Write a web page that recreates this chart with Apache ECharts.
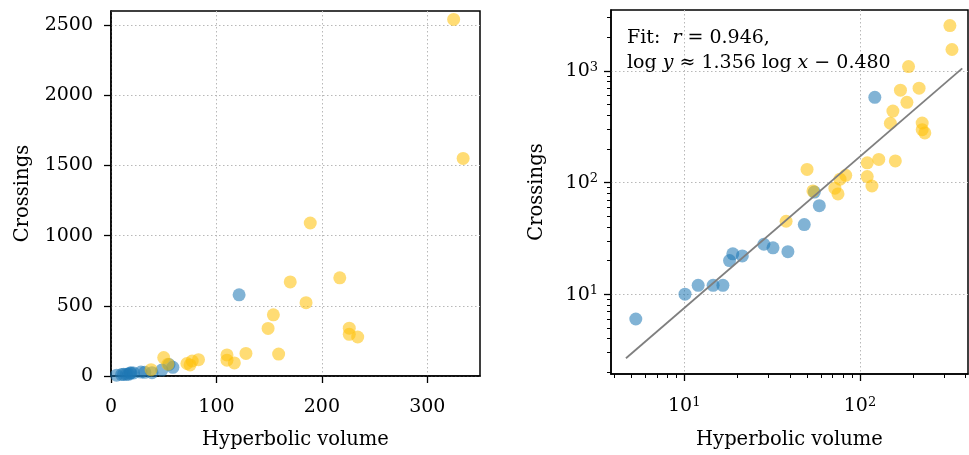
<!DOCTYPE html>
<html>
<head>
<meta charset="utf-8">
<script src="https://cdn.jsdelivr.net/npm/echarts@6/dist/echarts.min.js"></script>
<style>
  html, body { margin: 0; padding: 0; background: #fff; }
  #chart { width: 969px; height: 455px; }
</style>
</head>
<body>
<div id="chart"></div>
<script>
// Knots: hyperbolic volume vs. crossing number, two families
const blueVolume    = [5.3, 10.1, 12.0, 14.6, 16.6, 18.1, 18.9, 21.4, 28.4, 32.0, 38.9, 48.2, 55.0, 58.7, 121.5];
const blueCrossings = [6, 10, 12, 12, 12, 20, 23, 22, 28, 26, 24, 42, 82, 62, 578];

const yellowVolume    = [325, 334, 189, 170, 217, 185, 154, 149, 226, 226, 234, 159, 128, 110, 110, 117, 50, 83, 77, 72, 75, 54, 38];
const yellowCrossings = [2540, 1550, 1090, 670, 699, 522, 436, 339, 341, 297, 278, 156, 161, 150, 113, 93, 131, 116, 107, 89, 79, 84, 45];

// Least-squares fit in log-log space
const fitR = 0.946;
const fitSlope = 1.356;
const fitIntercept = -0.480;
const fitXRange = [4.66, 382];

// Tick values
const linXTicks = [0, 100, 200, 300];
const linYTicks = [0, 500, 1000, 1500, 2000, 2500];
const logXMajor = [10, 100];
const logXMinor = [4, 5, 6, 7, 8, 9, 20, 30, 40, 50, 60, 70, 80, 90, 200, 300, 400];
const logYMajor = [10, 100, 1000];
const logYMinor = [2, 3, 4, 5, 6, 7, 8, 9, 20, 30, 40, 50, 60, 70, 80, 90,
                   200, 300, 400, 500, 600, 700, 800, 900, 2000, 3000];

const FONT = 'DejaVu Serif';
const TICK_SIZE = 19;
const NAME_SIZE = 19.5;

const pair = (xs, ys) => xs.map((x, i) => [x, ys[i]]);
const fitLine = fitXRange.map(x => [x, Math.pow(10, fitSlope * Math.log10(x) + fitIntercept)]);

const blueColor = 'rgba(31,119,180,0.7)';
const yellowColor = 'rgba(255,193,7,0.7)';
const DOT = 13;

const gridLine = { show: true, lineStyle: { color: '#b8b8b8', type: [1.5, 2.5], width: 1 } };
const axisLine = { show: true, lineStyle: { color: '#000', width: 1.5 } };
const majorTick = (vals) => ({ show: true, length: 7, customValues: vals, lineStyle: { color: '#000', width: 1.3 } });
const minorTick = (vals) => ({ show: true, length: 4, customValues: vals, lineStyle: { color: '#000', width: 1 } });
const plainNum = (v) => String(v);
const tickLabel = { color: '#000', fontFamily: FONT, fontSize: TICK_SIZE, formatter: plainNum };
const nameStyle = { color: '#000', fontFamily: FONT, fontSize: NAME_SIZE };

const powLabel = (v) => '{b|10}{s|' + Math.round(Math.log10(v)) + '}';
const powRich = {
  b: { fontFamily: FONT, fontSize: TICK_SIZE, color: '#000', verticalAlign: 'bottom', lineHeight: 20 },
  s: { fontFamily: FONT, fontSize: 13, color: '#000', verticalAlign: 'top', lineHeight: 13 }
};

const LOG_X_MIN = 3.83, LOG_X_MAX = 412;
const LOG_Y_MIN = 1.93, LOG_Y_MAX = 3500;

const fitText =
  'Fit:  {i|r} = ' + fitR.toFixed(3) + ',\n' +
  'log {i|y} \u2248 ' + fitSlope.toFixed(3) + ' log {i|x} \u2212 ' + Math.abs(fitIntercept).toFixed(3);

const option = {
  animation: false,
  backgroundColor: '#fff',
  grid: [
    { left: 111, top: 11, width: 369, height: 367, show: true, borderColor: '#000', borderWidth: 1.5 },
    { left: 611, top: 10, width: 357, height: 365.5, show: true, borderColor: '#000', borderWidth: 1.5 }
  ],
  xAxis: [
    {
      gridIndex: 0, type: 'value', min: 0, max: 350,
      name: 'Hyperbolic volume', nameLocation: 'middle', nameGap: 54, nameTextStyle: nameStyle,
      axisLine, axisTick: majorTick(linXTicks), splitLine: gridLine,
      axisLabel: Object.assign({ customValues: linXTicks, margin: 22 }, tickLabel)
    },
    {
      gridIndex: 1, type: 'log', logBase: 10, min: LOG_X_MIN, max: LOG_X_MAX, position: 'bottom',
      name: 'Hyperbolic volume', nameLocation: 'middle', nameGap: 56, nameTextStyle: nameStyle,
      axisLine, axisTick: majorTick(logXMajor), splitLine: gridLine,
      axisLabel: { customValues: logXMajor, margin: 22, formatter: powLabel, rich: powRich }
    },
    {
      gridIndex: 1, type: 'log', logBase: 10, min: LOG_X_MIN, max: LOG_X_MAX, position: 'bottom',
      axisLine: { show: false }, axisTick: minorTick(logXMinor), splitLine: { show: false },
      axisLabel: { show: false }
    }
  ],
  yAxis: [
    {
      gridIndex: 0, type: 'value', min: 0, max: 2600,
      name: 'Crossings', nameLocation: 'middle', nameGap: 78, nameTextStyle: nameStyle,
      axisLine, axisTick: majorTick(linYTicks), splitLine: gridLine,
      axisLabel: Object.assign({ customValues: linYTicks, margin: 18 }, tickLabel)
    },
    {
      gridIndex: 1, type: 'log', logBase: 10, min: LOG_Y_MIN, max: LOG_Y_MAX, position: 'left',
      name: 'Crossings', nameLocation: 'middle', nameGap: 64, nameTextStyle: nameStyle,
      axisLine, axisTick: majorTick(logYMajor), splitLine: gridLine,
      axisLabel: { customValues: logYMajor, margin: 13, formatter: powLabel, rich: powRich }
    },
    {
      gridIndex: 1, type: 'log', logBase: 10, min: LOG_Y_MIN, max: LOG_Y_MAX, position: 'left',
      axisLine: { show: false }, axisTick: minorTick(logYMinor), splitLine: { show: false },
      axisLabel: { show: false }
    }
  ],
  series: [
    { type: 'scatter', xAxisIndex: 0, yAxisIndex: 0, symbolSize: DOT, itemStyle: { color: blueColor }, data: pair(blueVolume, blueCrossings) },
    { type: 'scatter', xAxisIndex: 0, yAxisIndex: 0, symbolSize: DOT, itemStyle: { color: yellowColor }, data: pair(yellowVolume, yellowCrossings) },
    { type: 'scatter', xAxisIndex: 1, yAxisIndex: 1, symbolSize: DOT, itemStyle: { color: blueColor }, data: pair(blueVolume, blueCrossings) },
    { type: 'scatter', xAxisIndex: 1, yAxisIndex: 1, symbolSize: DOT, itemStyle: { color: yellowColor }, data: pair(yellowVolume, yellowCrossings) },
    {
      type: 'line', xAxisIndex: 1, yAxisIndex: 1, data: fitLine, symbol: 'none', z: 3,
      lineStyle: { color: '#7f7f7f', width: 1.8 }
    }
  ],
  graphic: [
    {
      type: 'text', left: 627, top: 26, z: 10,
      style: {
        text: fitText,
        fontFamily: FONT, fontSize: 19, fill: '#000', lineHeight: 25,
        rich: {
          i: { fontFamily: FONT, fontSize: 19, fontStyle: 'italic', fill: '#000', lineHeight: 25 }
        }
      }
    }
  ]
};

const chart = echarts.init(document.getElementById('chart'), null, { renderer: 'canvas' });
chart.setOption(option);
</script>
</body>
</html>
